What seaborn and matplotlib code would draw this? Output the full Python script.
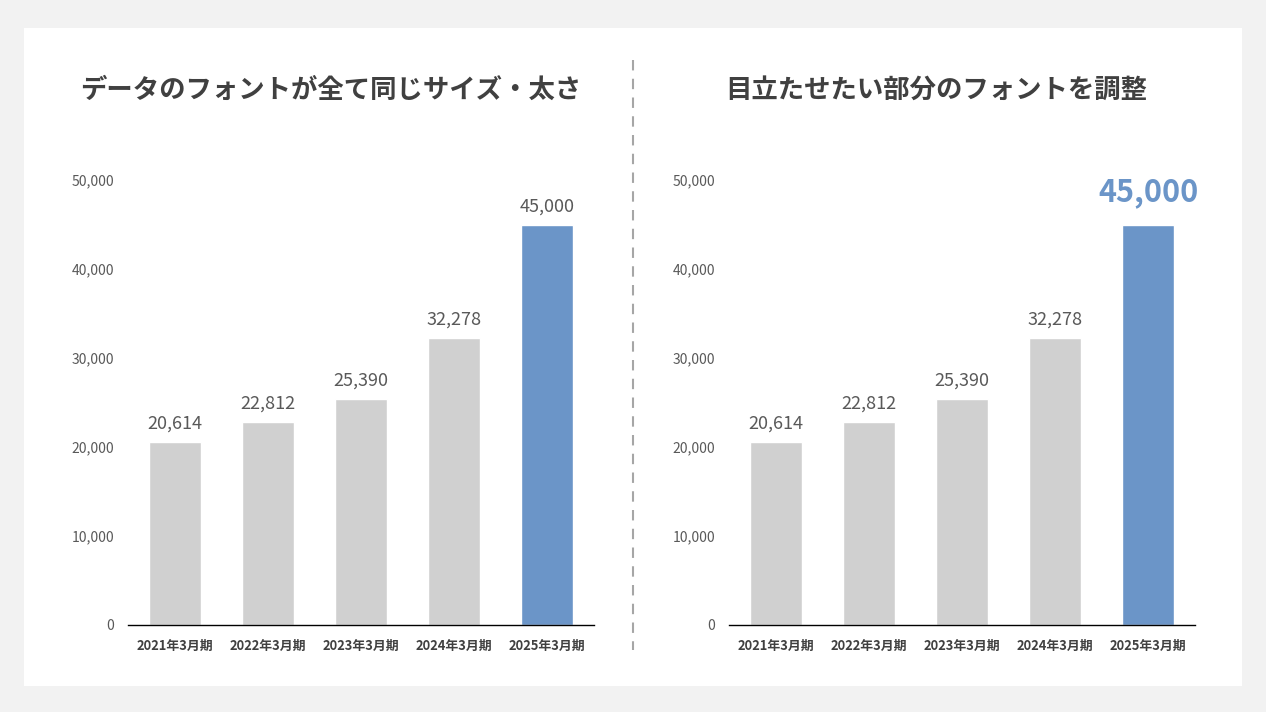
import matplotlib
matplotlib.use("Agg")
import matplotlib.pyplot as plt
import seaborn as sns
from matplotlib.patches import Rectangle
from matplotlib.lines import Line2D

periods = ["2021年3月期", "2022年3月期", "2023年3月期", "2024年3月期", "2025年3月期"]
values = [20614, 22812, 25390, 32278, 45000]
titles = ["データのフォントが全て同じサイズ・太さ", "目立たせたい部分のフォントを調整"]
yticks = [0, 10000, 20000, 30000, 40000, 50000]

GRAY = "#d0d0d0"
BLUE = "#6b95c8"
bar_colors = [GRAY, GRAY, GRAY, GRAY, BLUE]

sns.set_theme(style="white")
plt.rcParams['font.family'] = ['Noto Sans CJK JP', 'DejaVu Sans']

fig = plt.figure(figsize=(12.66, 7.12), dpi=100)
fig.patch.set_facecolor("#f2f2f2")
fig.patches.append(Rectangle((24/1266, 26/712), 1218/1266, 658/712,
                             transform=fig.transFigure, facecolor="white",
                             edgecolor="none", zorder=-10))
fig.lines.append(Line2D([633/1266, 633/1266], [1-60/712, 1-650/712],
                        transform=fig.transFigure, color="#a6a6a6",
                        linewidth=1.5, linestyle=(0, (5, 4)), zorder=-5))

lefts = [128/1266, 729/1266]
title_x = [331/1266, 936/1266]
for i, left in enumerate(lefts):
    ax = fig.add_axes([left, 87/712, 466/1266, 445/712])
    ax.set_zorder(1)
    ax.set_facecolor("none")
    sns.barplot(x=periods, y=values, hue=periods, palette=bar_colors,
                legend=False, width=0.56, ax=ax, saturation=1)
    ax.set_ylim(0, 50000)
    ax.set_xlim(-0.5, 4.5)
    ax.set_yticks(yticks)
    ax.set_yticklabels([f"{v:,}" for v in yticks], fontsize=10, color="#595959")
    ax.tick_params(axis="y", length=0, pad=10)
    ax.tick_params(axis="x", length=0, pad=10)
    for lab in ax.get_xticklabels():
        lab.set_fontsize(9.3)
        lab.set_fontweight("bold")
        lab.set_color("#404040")
    ax.set_xlabel("")
    ax.set_ylabel("")
    for s in ["left", "right", "top"]:
        ax.spines[s].set_visible(False)
    ax.spines["bottom"].set_color("black")
    ax.spines["bottom"].set_linewidth(1)
    for j, v in enumerate(values):
        if i == 1 and j == len(values) - 1:
            ax.annotate(f"{v:,}", (j, v), xytext=(0, 23), textcoords="offset points",
                        ha="center", va="center", fontsize=22, fontweight="bold",
                        color=BLUE)
        else:
            ax.annotate(f"{v:,}", (j, v), xytext=(0, 13), textcoords="offset points",
                        ha="center", va="center", fontsize=13, color="#595959")
    fig.text(title_x[i], 1-90/712, titles[i], ha="center", va="center",
             fontsize=19, fontweight="bold", color="#404040")

fig.savefig("out.png", dpi=100, facecolor=fig.get_facecolor())
